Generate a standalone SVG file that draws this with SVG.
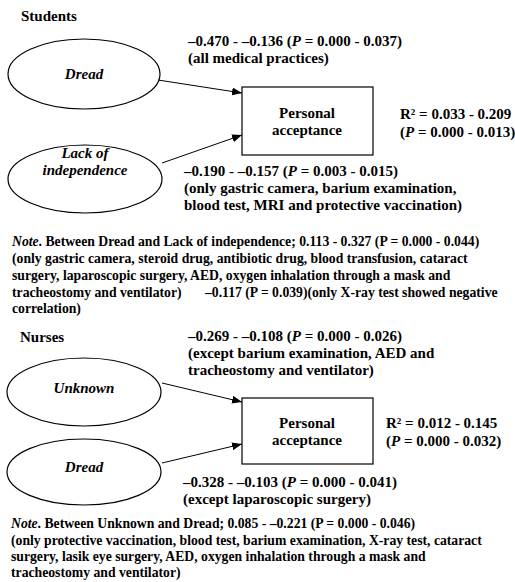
<svg xmlns="http://www.w3.org/2000/svg" width="515" height="582" viewBox="0 0 515 582">
<style>
text{font-weight:bold;fill:#000}
.l{font-size:15px}
.n{font-size:13.7px}
.c{text-anchor:middle}
.i{font-style:italic}
.node{fill:#fff;stroke:#000;stroke-width:1.2}
.edge{stroke:#000;stroke-width:1;fill:none;marker-end:url(#ah)}
</style>
<defs>
<marker id="ah" viewBox="0 0 10 8" refX="10" refY="4" markerWidth="10" markerHeight="8" markerUnits="userSpaceOnUse" orient="auto">
<path d="M0,0 L10,4 L0,8 z" fill="#000"/>
</marker>
</defs>
<rect width="515" height="582" fill="#fff"/>
<g font-family="Liberation Serif, Times New Roman, Times, DejaVu Serif, serif">
<text class="l" x="21" y="21">Students</text>

<g id="s-dread"><ellipse class="node" cx="84" cy="74" rx="76" ry="35"/><text class="l c i" x="84" y="79">Dread</text></g>
<g id="s-lack"><ellipse class="node" cx="85" cy="179" rx="77" ry="34"/><text class="l c i" x="85" y="158">Lack of</text><text class="l c i" x="85" y="175">independence</text></g>
<g id="s-pa"><rect class="node" x="242" y="87" width="131" height="68"/><text class="l c" x="307" y="118">Personal</text><text class="l c" x="307" y="135">acceptance</text></g>

<g id="s-connectors">
<line class="edge" x1="158" y1="80" x2="242" y2="93"/>
<line class="edge" x1="162" y1="163" x2="242" y2="135"/>
</g>

<g id="s-labels">
<text class="l" x="188" y="46">–0.470 - –0.136 (<tspan class="i">P</tspan> = 0.000 - 0.037)</text>
<text class="l" x="188" y="63">(all medical practices)</text>
<text class="l" x="400" y="119">R² = 0.033 - 0.209</text>
<text class="l" x="400" y="137">(<tspan class="i">P</tspan> = 0.000 - 0.013)</text>
<text class="l" x="184" y="176">–0.190 - –0.157 (<tspan class="i">P</tspan> = 0.003 - 0.015)</text>
<text class="l" x="184" y="193">(only gastric camera, barium examination,</text>
<text class="l" x="184" y="210">blood test, MRI and protective vaccination)</text>
</g>

<g id="s-note">
<text class="n" x="12" y="246"><tspan class="i">Note</tspan>. Between Dread and Lack of independence; 0.113 - 0.327 (P = 0.000 - 0.044)</text>
<text class="n" x="12" y="263">(only gastric camera, steroid drug, antibiotic drug, blood transfusion, cataract</text>
<text class="n" x="12" y="280">surgery, laparoscopic surgery, AED, oxygen inhalation through a mask and</text>
<text class="n" x="12" y="297">tracheostomy and ventilator)</text>
<text class="n" x="205" y="297">–0.117 (P = 0.039)(only X-ray test showed negative</text>
<text class="n" x="12" y="313">correlation)</text>
</g>

<text class="l" x="20" y="342">Nurses</text>

<g id="n-unknown"><ellipse class="node" cx="84" cy="392" rx="77" ry="34"/><text class="l c i" x="84" y="393">Unknown</text></g>
<g id="n-dread"><ellipse class="node" cx="84" cy="472" rx="77" ry="33"/><text class="l c i" x="84" y="472">Dread</text></g>
<g id="n-pa"><rect class="node" x="242" y="398" width="131" height="66"/><text class="l c" x="307" y="428">Personal</text><text class="l c" x="307" y="445">acceptance</text></g>

<g id="n-connectors">
<line class="edge" x1="162" y1="383" x2="242" y2="402"/>
<line class="edge" x1="162" y1="463" x2="242" y2="444"/>
</g>

<g id="n-labels">
<text class="l" x="188" y="341">–0.269 - –0.108 (<tspan class="i">P</tspan> = 0.000 - 0.026)</text>
<text class="l" x="188" y="358">(except barium examination, AED and</text>
<text class="l" x="188" y="375">tracheostomy and ventilator)</text>
<text class="l" x="386" y="428">R² = 0.012 - 0.145</text>
<text class="l" x="386" y="446">(<tspan class="i">P</tspan> = 0.000 - 0.032)</text>
<text class="l" x="183" y="487">–0.328 - –0.103 (<tspan class="i">P</tspan> = 0.000 - 0.041)</text>
<text class="l" x="183" y="504">(except laparoscopic surgery)</text>
</g>

<g id="n-note">
<text class="n" x="11" y="528"><tspan class="i">Note</tspan>. Between Unknown and Dread; 0.085 - –0.221 (P = 0.000 - 0.046)</text>
<text class="n" x="11" y="545">(only protective vaccination, blood test, barium examination, X-ray test, cataract</text>
<text class="n" x="11" y="561">surgery, lasik eye surgery, AED, oxygen inhalation through a mask and</text>
<text class="n" x="11" y="577">tracheostomy and ventilator)</text>
</g>
</g>
</svg>
